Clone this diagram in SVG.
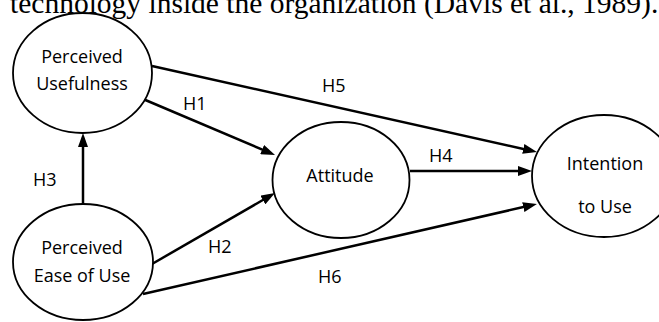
<svg xmlns="http://www.w3.org/2000/svg" width="659" height="322" viewBox="0 0 659 322">
<style>
  .node ellipse { fill: #ffffff; stroke: #000000; stroke-width: 1.8; }
  .node text { font-family: "Open Sans", "Liberation Sans", Arial, sans-serif; font-size: 18px; fill: #000000; text-anchor: middle; }
  .conn line { stroke: #000000; stroke-width: 2.5; }
  .lbl { font-family: "Open Sans", "Liberation Sans", Arial, sans-serif; font-size: 18px; fill: #000000; }
  .head { font-family: "Liberation Serif", "Times New Roman", serif; font-size: 29.5px; fill: #000000; }
</style>
<defs>
  <marker id="arrow" viewBox="0 0 14 10" refX="8" refY="5" markerWidth="14" markerHeight="10" markerUnits="userSpaceOnUse" orient="auto">
    <path d="M0,0 L14,5 L0,10 z" fill="#000000"/>
  </marker>
</defs>
<rect width="659" height="322" fill="#ffffff"/>
<text class="head" x="10" y="13">technology inside the organization (Davis et al., 1989).</text>

<g id="connectors" class="conn">
  <line x1="143" y1="99" x2="269.5" y2="152.7" marker-end="url(#arrow)"/>
  <line x1="152" y1="264" x2="269.8" y2="196" marker-end="url(#arrow)"/>
  <line x1="83" y1="206" x2="83" y2="139" marker-end="url(#arrow)"/>
  <line x1="410" y1="171" x2="526" y2="171" marker-end="url(#arrow)"/>
  <line x1="152" y1="66" x2="531.1" y2="150.7" marker-end="url(#arrow)"/>
  <line x1="143" y1="294" x2="531.1" y2="205.3" marker-end="url(#arrow)"/>
</g>

<g id="labels">
  <text class="lbl" x="183" y="110">H1</text>
  <text class="lbl" x="208" y="253">H2</text>
  <text class="lbl" x="33" y="186">H3</text>
  <text class="lbl" x="429" y="162">H4</text>
  <text class="lbl" x="322" y="92">H5</text>
  <text class="lbl" x="318" y="283">H6</text>
</g>

<g id="perceived-usefulness" class="node">
  <ellipse cx="82.5" cy="73" rx="69.5" ry="60"/>
  <text x="82" y="63">Perceived</text>
  <text x="82" y="90">Usefulness</text>
</g>

<g id="perceived-ease-of-use" class="node">
  <ellipse cx="83" cy="262" rx="70" ry="58"/>
  <text x="82" y="254">Perceived</text>
  <text x="82" y="282">Ease of Use</text>
</g>

<g id="attitude" class="node">
  <ellipse cx="341" cy="180" rx="68.5" ry="58"/>
  <text x="340" y="182">Attitude</text>
</g>

<g id="intention-to-use" class="node">
  <ellipse cx="604" cy="176" rx="72" ry="61"/>
  <text x="605" y="170">Intention</text>
  <text x="605" y="213">to Use</text>
</g>
</svg>
